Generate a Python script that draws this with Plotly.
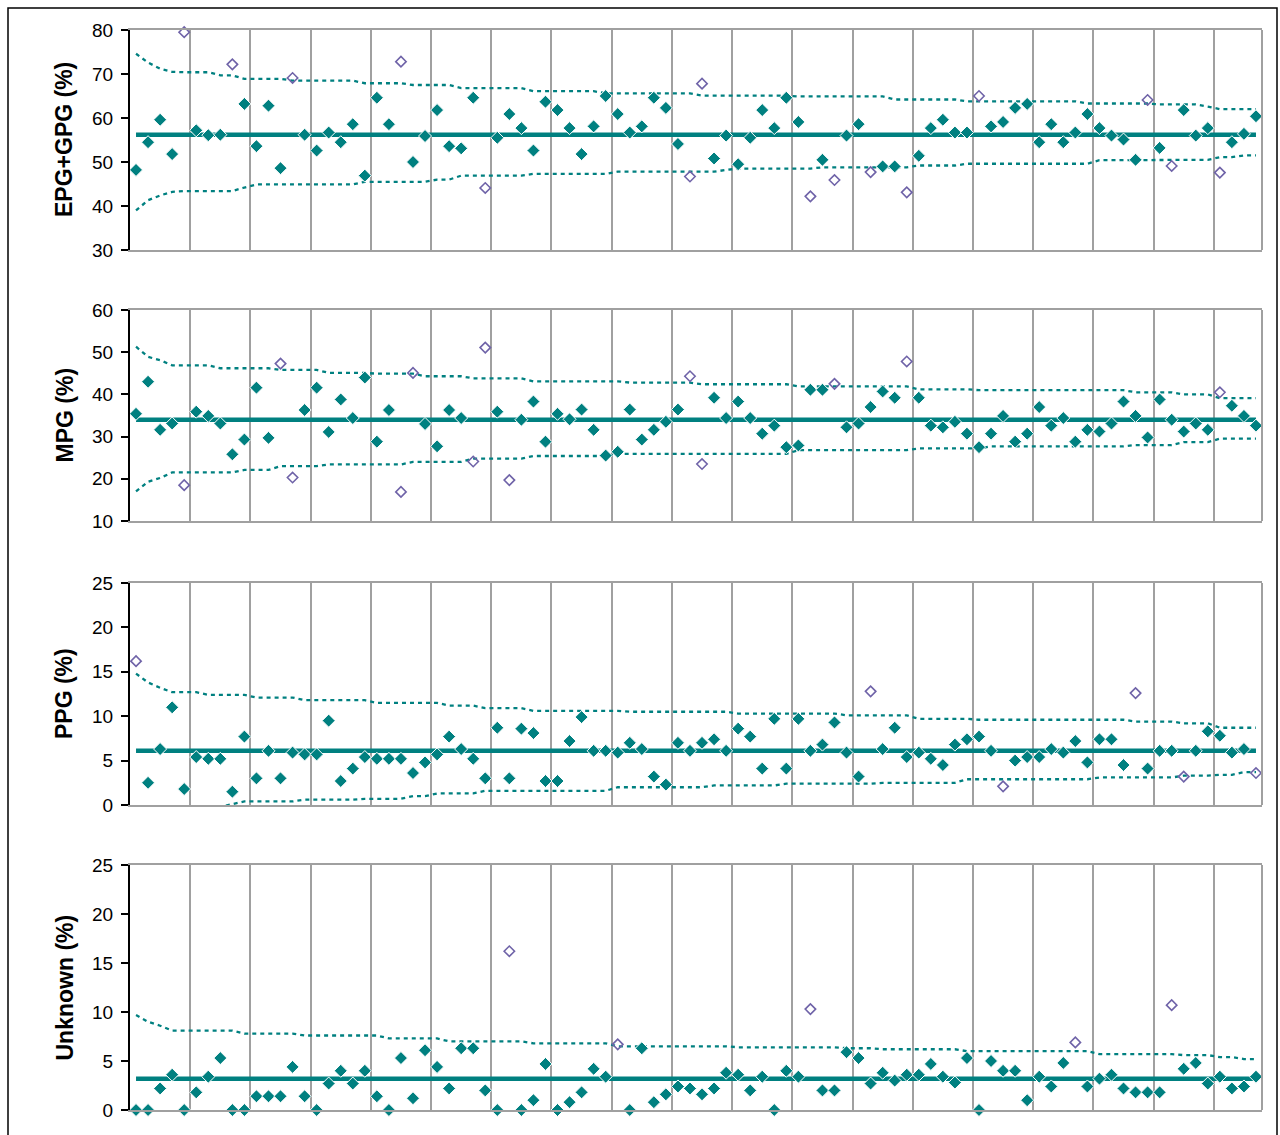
import plotly.graph_objects as go

W, H = 1280, 1135
FONT = "Arial, Liberation Sans, sans-serif"
TEAL = "#008080"
PURPLE = "#6f63a8"
GRID = "#a0a0a0"

# ---------------- data ----------------
units = list(range(1, 95))

titles = ["EPG+GPG (%)", "MPG (%)", "PPG (%)", "Unknown (%)"]
means = [56.2, 34.0, 6.1, 3.2]
y_ranges = [[30, 80], [10, 60], [0, 25], [0, 25]]
y_dticks = [10, 10, 5, 5]

epg_gpg = [48.2, 54.5, 59.6, 51.8, 79.5, 57.2, 56.1, 56.2, 72.2, 63.2,
           53.6, 62.8, 48.6, 69.1, 56.2, 52.6, 56.7, 54.5, 58.6, 46.9,
           64.6, 58.6, 72.8, 50.0, 55.9, 61.8, 53.6, 53.1, 64.6, 44.1,
           55.5, 60.9, 57.7, 52.6, 63.7, 61.8, 57.7, 51.8, 58.1, 65.0,
           60.9, 56.7, 58.1, 64.6, 62.3, 54.1, 46.7, 67.8, 50.8, 56.0,
           49.5, 55.5, 61.8, 57.7, 64.6, 59.1, 42.2, 50.5, 45.9, 56.0,
           58.6, 47.7, 49.0, 49.0, 43.1, 51.4, 57.7, 59.6, 56.7, 56.7,
           65.0, 58.1, 59.1, 62.3, 63.2, 54.5, 58.6, 54.5, 56.7, 60.9,
           57.7, 56.0, 55.1, 50.5, 64.1, 53.2, 49.1, 61.8, 56.0, 57.7,
           47.6, 54.5, 56.4, 60.4]

mpg = [35.4, 43.0, 31.6, 33.1, 18.5, 35.9, 34.9, 33.1, 25.8, 29.3,
       41.6, 29.7, 47.3, 20.3, 36.3, 41.6, 31.1, 38.8, 34.4, 44.0,
       28.8, 36.3, 16.9, 45.1, 33.0, 27.7, 36.3, 34.4, 24.1, 51.1,
       35.9, 19.7, 34.0, 38.3, 28.8, 35.4, 34.1, 36.4, 31.6, 25.5,
       26.4, 36.4, 29.3, 31.6, 33.5, 36.4, 44.3, 23.5, 39.2, 34.4,
       38.3, 34.4, 30.7, 32.6, 27.5, 27.9, 41.1, 41.1, 42.5, 32.2,
       33.1, 37.0, 40.7, 39.2, 47.8, 39.2, 32.6, 32.2, 33.5, 30.7,
       27.5, 30.7, 34.9, 28.8, 30.7, 37.0, 32.6, 34.4, 28.8, 31.6,
       31.2, 33.1, 38.3, 34.9, 29.8, 38.8, 34.0, 31.2, 33.1, 31.6,
       40.5, 37.3, 34.9, 32.6]

ppg = [16.2, 2.5, 6.3, 11.0, 1.8, 5.4, 5.2, 5.2, 1.5, 7.7,
       3.0, 6.1, 3.0, 5.9, 5.7, 5.7, 9.5, 2.7, 4.1, 5.4,
       5.2, 5.2, 5.2, 3.6, 4.8, 5.7, 7.7, 6.3, 5.2, 3.0,
       8.7, 3.0, 8.6, 8.1, 2.7, 2.7, 7.2, 9.9, 6.1, 6.1,
       5.9, 7.0, 6.3, 3.2, 2.3, 7.0, 6.1, 7.0, 7.4, 6.1,
       8.6, 7.7, 4.1, 9.7, 4.1, 9.7, 6.1, 6.8, 9.3, 5.9,
       3.2, 12.8, 6.3, 8.7, 5.4, 5.9, 5.2, 4.5, 6.8, 7.4,
       7.7, 6.1, 2.1, 5.0, 5.4, 5.4, 6.3, 5.9, 7.2, 4.8,
       7.4, 7.4, 4.5, 12.6, 4.1, 6.1, 6.1, 3.2, 6.1, 8.3,
       7.8, 5.9, 6.3, 3.6]

unknown = [0, 0, 2.2, 3.6, 0, 1.8, 3.4, 5.3, 0, 0,
           1.4, 1.4, 1.4, 4.4, 1.4, 0, 2.7, 4.0, 2.7, 4.0,
           1.4, 0, 5.3, 1.2, 6.1, 4.4, 2.2, 6.3, 6.3, 2.0,
           0, 16.2, 0, 1.0, 4.7, 0, 0.8, 1.8, 4.2, 3.4,
           6.7, 0, 6.3, 0.8, 1.6, 2.4, 2.2, 1.6, 2.2, 3.8,
           3.6, 2.0, 3.4, 0, 4.0, 3.4, 10.3, 2.0, 2.0, 5.9,
           5.3, 2.7, 3.8, 3.0, 3.6, 3.6, 4.7, 3.4, 2.8, 5.3,
           0, 5.0, 4.0, 4.0, 1.0, 3.4, 2.4, 4.8, 6.9, 2.4,
           3.2, 3.6, 2.2, 1.8, 1.8, 1.8, 10.7, 4.2, 4.8, 2.7,
           3.4, 2.2, 2.4, 3.4]

# control limits (per unit)
epg_upper = ([74.6, 72.6, 71.2, 70.5] + [70.4] * 3 + [69.7] * 2 + [68.9] * 4 + [68.5] * 6
             + [67.9] * 4 + [67.5] * 4 + [66.8] * 6 + [66.1] * 6 + [65.6] * 8 + [65.1] * 8
             + [64.9] * 8 + [64.2] * 6 + [63.8] * 10 + [63.3] * 6 + [63.1] * 4 + [62.6] + [62.0] * 4)
epg_lower = ([39.0, 41.3, 42.4, 43.2] + [43.4] * 5 + [44.2] + [44.9] * 9 + [45.5] * 6 + [46.0] * 2
             + [46.9] * 6 + [47.3] * 7 + [47.8] * 9 + [48.2] + [48.5] * 7 + [48.8] * 8 + [49.2] * 4
             + [49.6] * 11 + [50.4] * 6 + [50.5] * 4 + [51.1] * 2 + [51.5] * 2)

mpg_upper = ([51.3, 48.9, 48.1] + [46.9] * 4 + [46.2] * 5 + [45.8] * 4 + [45.1] * 4 + [44.9] * 4
             + [44.3] * 4 + [43.8] * 5 + [43.1] * 8 + [42.8] * 6 + [42.4] * 8 + [41.9] * 10
             + [41.2] * 5 + [41.0] * 13 + [40.5] * 4 + [40.0] * 3 + [39.1] * 4)
mpg_lower = ([17.0, 19.3, 20.2] + [21.5] * 6 + [22.1] * 3 + [23.0] * 4 + [23.4] * 7 + [24.0] * 5
             + [24.8] * 5 + [25.4] * 7 + [25.9] * 15 + [26.8] * 10 + [27.2] * 6 + [27.7] * 12
             + [28.0] * 4 + [28.7] * 3 + [29.5] * 4)

ppg_upper = ([14.8, 13.8, 13.2] + [12.7] * 3 + [12.4] * 4 + [12.1] * 4 + [11.8] * 6 + [11.5] * 6
             + [11.2] * 3 + [10.9] * 4 + [10.6] * 8 + [10.5] * 9 + [10.3] * 9 + [10.1] * 6
             + [9.7] * 5 + [9.6] * 13 + [9.4] * 4 + [9.2] * 3 + [8.7] * 4)
ppg_lower = ([-2.6, -1.6, -1.0] + [-0.2] * 5 + [0.1] + [0.4] * 5 + [0.6] * 5 + [0.7] * 4 + [1.0] * 2
             + [1.3] * 4 + [1.6] * 11 + [2.0] * 8 + [2.2] * 6 + [2.4] * 8 + [2.5] * 7 + [2.9] * 11
             + [3.1] * 7 + [3.3] * 3 + [3.4] * 2 + [3.7] * 2)

unknown_upper = ([9.7, 9.0, 8.6] + [8.1] * 6 + [7.8] * 5 + [7.6] * 7 + [7.3] * 5 + [7.0] * 7
                 + [6.8] * 7 + [6.5] * 10 + [6.4] * 9 + [6.3] * 3 + [6.2] * 7 + [6.0] * 11
                 + [5.7] * 7 + [5.6] * 3 + [5.4] * 2 + [5.2] * 2)
unknown_lower = None

series = [epg_gpg, mpg, ppg, unknown]
uppers = [epg_upper, mpg_upper, ppg_upper, unknown_upper]
lowers = [epg_lower, mpg_lower, ppg_lower, unknown_lower]

# ---------------- layout geometry (pixels) ----------------
x_left, x_right = 130, 1262
panel_px = [(30, 250), (310, 521), (583, 805), (865, 1110)]

fig = go.Figure()
shapes = []
annotations = []
limit_dash = "4px,4px"

for k in range(4):
    ax = "" if k == 0 else str(k + 1)
    xa, ya = "x" + ax, "y" + ax
    vals, up, lo, mean = series[k], uppers[k], lowers[k], means[k]

    # control limits
    fig.add_trace(go.Scatter(x=units, y=up, mode="lines", xaxis=xa, yaxis=ya,
                             line=dict(color=TEAL, width=2.3, dash=limit_dash),
                             hoverinfo="skip", showlegend=False))
    if lo is not None:
        fig.add_trace(go.Scatter(x=units, y=lo, mode="lines", xaxis=xa, yaxis=ya,
                                 line=dict(color=TEAL, width=2.3, dash=limit_dash),
                                 hoverinfo="skip", showlegend=False))
    # mean line
    fig.add_trace(go.Scatter(x=[units[0], units[-1]], y=[mean, mean], mode="lines",
                             xaxis=xa, yaxis=ya, line=dict(color=TEAL, width=4.5),
                             hoverinfo="skip", showlegend=False))

    inside, outside = [], []
    for i, v in enumerate(vals):
        out = v > up[i] or (lo is not None and v < lo[i])
        inside.append(None if out else v)
        outside.append(v if out else None)

    fig.add_trace(go.Scatter(x=units, y=inside, mode="markers", xaxis=xa, yaxis=ya,
                             cliponaxis=False,
                             marker=dict(symbol="diamond", size=10, color=TEAL,
                                         line=dict(color="white", width=1)),
                             showlegend=False))
    fig.add_trace(go.Scatter(x=units, y=outside, mode="markers", xaxis=xa, yaxis=ya,
                             cliponaxis=False,
                             marker=dict(symbol="diamond-open", size=8, color=PURPLE,
                                         line=dict(color=PURPLE, width=1.6)),
                             showlegend=False))

    top, bot = panel_px[k]
    dom_y = [1 - bot / H, 1 - top / H]
    fig.layout["xaxis" + ax] = dict(
        domain=[x_left / W, x_right / W], range=[0.5, len(units) + 0.5],
        anchor=ya, showgrid=True, gridcolor=GRID, gridwidth=2,
        tick0=0.5, dtick=5, showticklabels=False, ticks="",
        showline=True, linecolor=GRID, linewidth=2, mirror=True, zeroline=False,
        automargin=False)
    fig.layout["yaxis" + ax] = dict(
        domain=dom_y, range=y_ranges[k], dtick=y_dticks[k], anchor=xa,
        showgrid=False, zeroline=False, showline=True, linecolor="black", linewidth=2,
        ticks="outside", ticklen=7, tickwidth=2, tickcolor="black",
        tickfont=dict(family=FONT, size=19, color="black"), ticklabelstandoff=4,
        automargin=False)

    shapes.append(dict(type="line", xref=xa + " domain", yref=ya + " domain",
                       x0=1, x1=1, y0=0, y1=1, line=dict(color=GRID, width=2)))
    annotations.append(dict(text="<b>" + titles[k] + "</b>", textangle=-90,
                            xref="paper", yref="paper", x=64 / W,
                            y=(dom_y[0] + dom_y[1]) / 2, showarrow=False,
                            xanchor="center", yanchor="middle",
                            font=dict(family=FONT, size=23, color="black")))

# outer chart border
shapes.append(dict(type="rect", xref="paper", yref="paper",
                   x0=8 / W, x1=1277 / W, y0=-0.05, y1=1 - 8 / H,
                   line=dict(color="black", width=1.5)))

fig.update_layout(width=W, height=H, margin=dict(l=0, r=0, t=0, b=0, autoexpand=False),
                  paper_bgcolor="white", plot_bgcolor="white",
                  shapes=shapes, annotations=annotations, hovermode=False,
                  font=dict(family=FONT))

fig.write_html("out.html", config={"displayModeBar": False},
               post_script="document.body.style.margin='0px';document.body.style.overflow='hidden';")
